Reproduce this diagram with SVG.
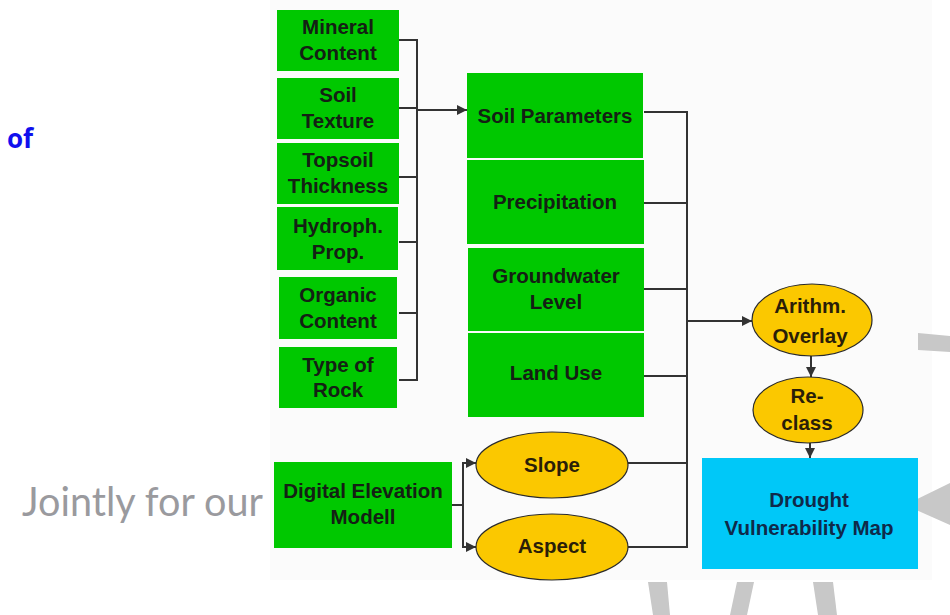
<svg xmlns="http://www.w3.org/2000/svg" width="950" height="615" viewBox="0 0 950 615">
<style>
.box{fill:#00c800}
.ell{fill:#fbc800;stroke:#2a2a2a;stroke-width:1.2}
.blue{fill:#00c8f8}
.t{font-family:"Liberation Sans",Arial,sans-serif;font-size:20.5px;font-weight:bold;fill:#142014;text-anchor:middle}
.te{fill:#2a1e08}
.tb{fill:#0f2a4a}
.ln{fill:none;stroke:#333;stroke-width:2}
.bg{fill:#c8c8c8}
</style>
<defs>
<marker id="a" viewBox="0 0 10 10" refX="10" refY="5" markerWidth="12" markerHeight="10" orient="auto" markerUnits="userSpaceOnUse">
<path d="M0,0 L10,5 L0,10 z" fill="#333"/>
</marker>
</defs>
<rect width="950" height="615" fill="#ffffff"/>
<g id="background">
<rect x="270" y="0" width="662" height="580" fill="#fbfbfb"/>
<polygon class="bg" points="918,333 950,336 950,352 918,350"/>
<polygon class="bg" points="905,505 950,483 950,525"/>
<polygon class="bg" points="648,582 667,582 670,615 653,615"/>
<polygon class="bg" points="737,582 754,582 747,615 730,615"/>
<polygon class="bg" points="813,582 833,582 837,615 818,615"/>
<text x="22" y="516" font-family="Lato,'Open Sans',sans-serif" font-size="40" fill="#9a9a9e" textLength="241" lengthAdjust="spacingAndGlyphs">Jointly for our</text>
<text x="7" y="148" font-family="'Open Sans','Liberation Sans',sans-serif" font-size="26" font-weight="bold" fill="#1010ee">of</text>
</g>
<g id="connectors">
<polyline class="ln" points="399,40 417,40 417,380 399,380"/>
<line class="ln" x1="399" y1="108" x2="417" y2="108"/>
<line class="ln" x1="399" y1="177" x2="417" y2="177"/>
<line class="ln" x1="399" y1="242" x2="417" y2="242"/>
<line class="ln" x1="399" y1="313" x2="417" y2="313"/>
<line class="ln" x1="417" y1="110" x2="467" y2="110" marker-end="url(#a)"/>
<polyline class="ln" points="644,112 687,112 687,547 628,547"/>
<line class="ln" x1="644" y1="203" x2="687" y2="203"/>
<line class="ln" x1="644" y1="289" x2="687" y2="289"/>
<line class="ln" x1="644" y1="376" x2="687" y2="376"/>
<line class="ln" x1="628" y1="463" x2="687" y2="463"/>
<line class="ln" x1="687" y1="321" x2="752" y2="321" marker-end="url(#a)"/>
<line class="ln" x1="452" y1="505" x2="463" y2="505"/>
<polyline class="ln" points="476,463 463,463 463,547 476,547"/>
<line class="ln" x1="463" y1="463" x2="476" y2="463" marker-end="url(#a)"/>
<line class="ln" x1="463" y1="547" x2="476" y2="547" marker-end="url(#a)"/>
<line class="ln" x1="811" y1="356" x2="811" y2="377" marker-end="url(#a)"/>
<line class="ln" x1="810" y1="443" x2="810" y2="458" marker-end="url(#a)"/>
</g>
<g id="mineral-content"><rect class="box" x="277" y="10" width="122" height="61"/><text class="t" x="338" y="34">Mineral</text><text class="t" x="338" y="60">Content</text></g>
<g id="soil-texture"><rect class="box" x="277" y="78" width="122" height="61"/><text class="t" x="338" y="102">Soil</text><text class="t" x="338" y="128">Texture</text></g>
<g id="topsoil-thickness"><rect class="box" x="277" y="143" width="122" height="61"/><text class="t" x="338" y="167">Topsoil</text><text class="t" x="338" y="193">Thickness</text></g>
<g id="hydroph-prop"><rect class="box" x="277" y="207" width="121" height="63"/><text class="t" x="338" y="233">Hydroph.</text><text class="t" x="338" y="259">Prop.</text></g>
<g id="organic-content"><rect class="box" x="279" y="277" width="118" height="62"/><text class="t" x="338" y="302">Organic</text><text class="t" x="338" y="328">Content</text></g>
<g id="type-of-rock"><rect class="box" x="279" y="347" width="118" height="61"/><text class="t" x="338" y="372">Type of</text><text class="t" x="338" y="397">Rock</text></g>
<g id="soil-parameters"><rect class="box" x="467" y="73" width="176" height="85"/><text class="t" x="555" y="123">Soil Parameters</text></g>
<g id="precipitation"><rect class="box" x="467" y="160" width="177" height="84"/><text class="t" x="555" y="209">Precipitation</text></g>
<g id="groundwater-level"><rect class="box" x="468" y="248" width="176" height="83"/><text class="t" x="556" y="283">Groundwater</text><text class="t" x="556" y="309">Level</text></g>
<g id="land-use"><rect class="box" x="468" y="333" width="176" height="84"/><text class="t" x="556" y="380">Land Use</text></g>
<g id="dem"><rect class="box" x="274" y="462" width="178" height="86"/><text class="t" x="363" y="498">Digital Elevation</text><text class="t" x="363" y="524">Modell</text></g>
<g id="slope"><ellipse class="ell" cx="552" cy="465" rx="76" ry="33"/><text class="t te" x="552" y="472">Slope</text></g>
<g id="aspect"><ellipse class="ell" cx="552" cy="547" rx="76" ry="33"/><text class="t te" x="552" y="553">Aspect</text></g>
<g id="arithm-overlay"><ellipse class="ell" cx="812" cy="320" rx="60" ry="36"/><text class="t te" x="810" y="313">Arithm.</text><text class="t te" x="810" y="343">Overlay</text></g>
<g id="reclass"><ellipse class="ell" cx="808" cy="410" rx="55" ry="33"/><text class="t te" x="807" y="403">Re-</text><text class="t te" x="807" y="430">class</text></g>
<g id="drought-map"><rect class="blue" x="702" y="458" width="216" height="111"/><text class="t tb" x="809" y="507">Drought</text><text class="t tb" x="809" y="535">Vulnerability Map</text></g>
</svg>
